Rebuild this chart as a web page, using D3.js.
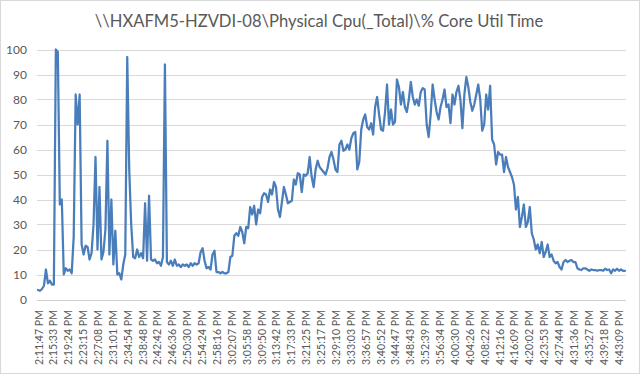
<!DOCTYPE html>
<html><head><meta charset="utf-8">
<script src="https://cdn.jsdelivr.net/npm/d3@7"></script>
<style>
html,body{margin:0;padding:0;background:#fff;}
svg{display:block;}
</style></head>
<body>
<svg id="chart" width="640" height="374"></svg>
<script>
const title = "\\\\HXAFM5-HZVDI-08\\Physical Cpu(_Total)\\% Core Util Time";

const tickLabels = ["2:11:47 PM","2:15:33 PM","2:19:24 PM","2:23:15 PM","2:27:08 PM","2:31:01 PM","2:34:54 PM","2:38:48 PM","2:42:42 PM","2:46:36 PM","2:50:30 PM","2:54:24 PM","2:58:16 PM","3:02:07 PM","3:05:58 PM","3:09:50 PM","3:13:42 PM","3:17:33 PM","3:21:25 PM","3:25:17 PM","3:29:10 PM","3:33:03 PM","3:36:57 PM","3:40:52 PM","3:44:47 PM","3:48:43 PM","3:52:39 PM","3:56:34 PM","4:00:30 PM","4:04:26 PM","4:08:22 PM","4:12:16 PM","4:16:09 PM","4:20:02 PM","4:23:53 PM","4:27:44 PM","4:31:36 PM","4:35:27 PM","4:39:18 PM","4:43:09 PM"];

// samples between consecutive tick labels
const samplesPerLabel = 7.5;

const yTicks = [0,10,20,30,40,50,60,70,80,90,100];

// % Core Util Time, one value per sample
const values = [
3.8,3.5,4.2,5.5,12,6.5,7.5,6,6,100,
99,38,40,10,12.5,11.5,12,10.5,25,82,
70,82,22,18,21.5,21,16,18.5,30,57,
20,45,16,19,28,63.5,18,40,14,27.5,
10,10.5,8,14,18,97,52,30,17,16.5,
20,17,18.5,16.5,38.5,15.5,41.5,16,15.5,16,
14.5,15,13.5,17,94,15,14,15.5,13.5,16,
13.5,14,13,14,13.5,14,13,14.5,13.5,14.5,
14,14.5,19,20.5,15.5,12.5,13,12,18,19.5,
11,11,10.5,11,10.5,10.5,11,17,17.5,25.5,
26.5,25.5,29,27,22.5,29,28.5,37,34,37.5,
30,36,34.5,41,42.5,42,39,44,42,47,
45,36,33,39,45,42,38.5,39,39.5,48,
46,50.5,50,43,50,49.5,50.5,57,49,45,
52,55.5,53,52,51,50,52.5,57,59,56,
52,51,62,63.5,59.5,60,62,60,64.5,66.5,
67,52,55,68,72,74,69,68,70.5,66,
77,81,74,68,67.5,75,86,70,76,70,
71,88,85,78,83,77,75,80,87,81,
78,80,77.5,83,84.5,84,70,65,74,86,
80,75,72,77,80,84,77,78,70.5,82,
78,83,85.5,80,68.5,82,89,85,79,75.5,
78,82,86,80,67.5,70,82,76,85.5,64,
62,54,59,58,58,51,57,53,51,49,
46,36,41,29,33,38,29,31,37,26.5,
24,20,22,18.5,23,17,19,22,17,18,
15.5,14.5,15,13,12,15,15.8,15,15.5,15.8,
15,15,12.5,12,11.8,12.5,12.5,12,11.5,12,
11.8,11.8,11.5,11.8,11.8,11.5,12.3,11.8,12,10.5,
12,11.5,12.3,11.5,12,11.5,11.5
];

const svg = d3.select("#chart");
const W = 640, H = 374;
const font = "Lato, 'Open Sans', 'Liberation Sans', sans-serif";
const textColor = "#595959";

// chart border
svg.append("rect").attr("x",0.5).attr("y",0.5).attr("width",W-1).attr("height",H-1)
  .attr("fill","#fff").attr("stroke","#d9d9d9").attr("stroke-width",1);

const x = d3.scaleLinear().domain([0, values.length-1]).range([38, 625]);
const y = d3.scaleLinear().domain([0, 100]).range([299.5, 49.5]);

// gridlines
svg.append("g").selectAll("line").data(yTicks).join("line")
  .attr("x1", 37).attr("x2", 626)
  .attr("y1", d => Math.round(y(d))+0.5).attr("y2", d => Math.round(y(d))+0.5)
  .attr("stroke", d => d === 0 ? "#d0d0d0" : "#d9d9d9").attr("stroke-width", 1);

// y axis labels
const yAxis = d3.axisLeft(y).tickValues(yTicks).tickSize(0).tickPadding(0);
const gy = svg.append("g").attr("transform","translate(27,0)").call(yAxis);
gy.select(".domain").remove();
gy.selectAll("text").attr("font-family", font).attr("font-size", 12).attr("fill", textColor)
  .attr("dy","0.35em");

// x axis labels
const tickIdx = tickLabels.map((_, k) => k * samplesPerLabel);
const xAxis = d3.axisBottom(x).tickValues(tickIdx)
  .tickFormat((d, k) => tickLabels[k]).tickSize(0).tickPadding(0);
const gx = svg.append("g").attr("transform","translate(0,300)").call(xAxis);
gx.select(".domain").remove();
gx.selectAll("text")
  .attr("font-family", font).attr("font-size", 10.6).attr("fill", textColor)
  .attr("text-anchor","end").attr("dy", null).attr("y", 0)
  .attr("transform","translate(4,10) rotate(-90)");

// line
const line = d3.line().x((d,i) => x(i)).y(d => y(d));
svg.append("path").datum(values)
  .attr("fill","none").attr("stroke","#4a7ebb").attr("stroke-width",2.25)
  .attr("stroke-linejoin","round").attr("stroke-linecap","round")
  .attr("d", line);

// title
svg.append("text").attr("x", 319).attr("y", 27).attr("text-anchor","middle")
  .attr("font-family", font).attr("font-size", 16.6).attr("fill", textColor)
  .text(title);
</script>
</body></html>
